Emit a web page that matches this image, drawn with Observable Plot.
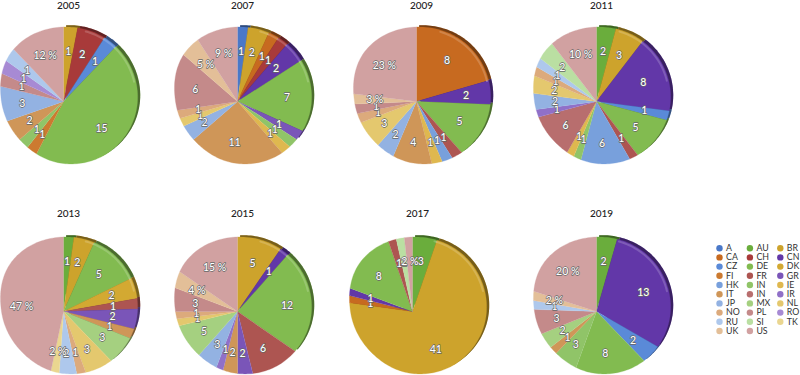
<!DOCTYPE html>
<html>
<head>
<meta charset="utf-8">
<style>html,body{margin:0;padding:0;background:#fff}svg{display:block}</style>
<script src="https://cdn.jsdelivr.net/npm/d3@7"></script>
<script src="https://cdn.jsdelivr.net/npm/@observablehq/plot@0.6"></script>
</head>
<body>
<script>
// Legend
const legendKeys = ["A","CA","CZ","FI","HK","IT","JP","NO","RU","UK","AU","CH","DE","FR","IN","IN2","MX","PL","SI","US","BR","CN","DK","GR","IE","IR","NL","RO","TK"];
const legendText = ["A","CA","CZ","FI","HK","IT","JP","NO","RU","UK","AU","CH","DE","FR","IN","IN","MX","PL","SI","US","BR","CN","DK","GR","IE","IR","NL","RO","TK"];
const legendColors = ["#4a78c8","#c76a20","#5a8ad8","#cc7a30","#78a0dc","#cf9658","#93b2e2","#dcaa7c","#aec8ec","#e3bf98",
  "#6aad3c","#a83a3a","#82bb50","#ad5551","#90c468","#b86e6e","#a5d080","#c48a8a","#badfa2","#d1a1a1",
  "#cda32c","#6237a8","#d3a932","#7a55b8","#dfb84f","#9070c8","#e4c86e","#a78ad4","#ead690"];

// One set of arrays per year, slices clockwise from twelve o'clock
const keys2005 = ["BR","CH","CZ","DE","FI","IN","IT","JP","PL","RO","RU","US"];
const vals2005 = [1,2,1,15,1,1,2,3,1,1,1,4];
const text2005 = ["1","2","1","15","1","1","2","3","1","1","1","12 %"];

const keys2007 = ["A","BR","CA","CH","CN","DE","GR","IN","IE","IT","JP","NL","NO","PL","UK","US"];
const vals2007 = [1,2,1,1,2,7,1,1,1,11,2,1,1,6,2,4];
const text2007 = ["1","2","1","1","2","7","1","1","1","11","2","1","1","6","5 %","9 %"];

const keys2009 = ["CA","CN","DE","FR","HK","IE","IT","JP","NL","NO","PL","UK","US"];
const vals2009 = [8,2,5,1,1,1,4,2,3,1,1,1,9];
const text2009 = ["8","2","5","1","1","1","4","2","3","1","1","3 %","23 %"];

const keys2011 = ["AU","BR","CN","CZ","DE","FR","HK","IN","IE","IN2","IR","JP","NL","NO","RU","SI","US"];
const vals2011 = [2,3,8,1,5,1,6,1,1,6,1,2,2,1,1,2,5];
const text2011 = ["2","3","8","1","5","1","6","1","1","6","1","2","2","1","1","2","10 %"];

const keys2013 = ["AU","BR","DE","DK","FR","GR","IT","MX","NL","NO","RU","TK","US"];
const vals2013 = [1,2,5,2,1,2,1,3,3,1,2,1,21];
const text2013 = ["1","2","5","2","1","2","1","3","3","1","2","2 %","47 %"];

const keys2015 = ["BR","CN","DE","FR","GR","IT","IR","JP","MX","NL","NO","PL","UK","US"];
const vals2015 = [5,1,12,6,2,2,1,3,5,1,1,3,2,8];
const text2015 = ["5","1","12","6","2","2","1","3","5","1","1","3","4 %","15 %"];

const keys2017 = ["AU","BR","CA","CN","DE","FR","SI","US"];
const vals2017 = [3,41,1,1,8,1,1,1];
const text2017 = ["3","41","1","1","8","1","1","2 %"];

const keys2019 = ["AU","CN","CZ","DE","IN","IT","MX","PL","RU","UK","US"];
const vals2019 = [2,13,2,8,3,1,2,3,1,1,9];
const text2019 = ["2","13","2","8","3","1","2","3","1","2 %","20 %"];

const pies = [
  {year:"2005", keys:keys2005, vals:vals2005, text:text2005, col:0, row:0},
  {year:"2007", keys:keys2007, vals:vals2007, text:text2007, col:1, row:0},
  {year:"2009", keys:keys2009, vals:vals2009, text:text2009, col:2, row:0},
  {year:"2011", keys:keys2011, vals:vals2011, text:text2011, col:3, row:0},
  {year:"2013", keys:keys2013, vals:vals2013, text:text2013, col:0, row:1},
  {year:"2015", keys:keys2015, vals:vals2015, text:text2015, col:1, row:1},
  {year:"2017", keys:keys2017, vals:vals2017, text:text2017, col:2, row:1, nudge:-4},
  {year:"2019", keys:keys2019, vals:vals2019, text:text2019, col:3, row:1}
];

// Layout of the small multiples
const colCentres = [63, 237, 416, 596];
const rowCentres = [101, 311];
// Outline radius of the tilted disc, every 45 degrees clockwise from north
const outline = [74.5, 76, 74, 68.5, 62, 58, 62, 72];
const tau = 2 * Math.PI;

function radiusAt(theta) {
  const n = outline.length;
  const t = ((theta / tau) % 1 + 1) % 1 * n;
  const i = Math.floor(t), f = t - i;
  const p = k => outline[(i + k + n) % n];
  return 0.5 * (2*p(0) + (p(1)-p(-1))*f + (2*p(-1)-5*p(0)+4*p(1)-p(2))*f*f + (3*p(0)-p(-1)-3*p(1)+p(2))*f*f*f);
}

const wedgeRows = [], rimRows = [], shineRows = [], labelRows = [], titleRows = [];
for (const pie of pies) {
  const cx = colCentres[pie.col] + (pie.nudge || 0), cy = rowCentres[pie.row];
  titleRows.push({x: cx + 5, y: pie.row ? 213 : 5.5, t: pie.year});
  const arcs = d3.pie().sort(null)(pie.vals);
  arcs.forEach((a, i) => {
    const id = pie.year + "-" + i, key = pie.keys[i];
    const pts = [{x: cx, y: cy, id, key}];
    const steps = Math.max(2, Math.ceil((a.endAngle - a.startAngle) / 0.03));
    for (let s = 0; s <= steps; ++s) {
      const th = a.startAngle + (a.endAngle - a.startAngle) * s / steps, r = radiusAt(th);
      pts.push({x: cx + r * Math.sin(th), y: cy - r * Math.cos(th), id, key});
      if (th > 0.3 && th < 1.3) shineRows.push({x: cx + (r-1.8) * Math.sin(th), y: cy - (r-1.8) * Math.cos(th), id, key});
    }
    wedgeRows.push(...pts);
    if (a.startAngle < 2.1) rimRows.push(...pts);
    const mid = (a.startAngle + a.endAngle) / 2, lr = radiusAt(mid) * 0.67;
    labelRows.push({x: cx + lr * Math.sin(mid), y: cy - lr * Math.cos(mid), t: pie.text[i]});
  });
}

const legendRows = legendKeys.map((key, i) => ({
  key, text: legendText[i],
  x: 719 + Math.floor(i / 10) * 30.4,
  y: 247.7 + (i % 10) * 9.2
}));

const font = "Lato, 'Open Sans', sans-serif";
const chart = Plot.plot({
  width: 800, height: 375, margin: 0,
  x: {domain: [0, 800], range: [0, 800], axis: null},
  y: {domain: [0, 375], range: [0, 375], axis: null},
  color: {type: "categorical", domain: legendKeys, range: legendColors},
  style: {background: "#fff", fontFamily: font},
  marks: [
    Plot.line(rimRows, {x: "x", y: "y", z: "id", fill: "key", stroke: "none", dx: 2.6, dy: -1.8}),
    Plot.line(rimRows, {x: "x", y: "y", z: "id", fill: "#000", fillOpacity: 0.42, stroke: "none", dx: 2.6, dy: -1.8}),
    Plot.line(wedgeRows, {x: "x", y: "y", z: "id", fill: "key", stroke: "key", strokeWidth: 0.3}),
    Plot.line(shineRows, {x: "x", y: "y", z: "id", stroke: "#fff", strokeOpacity: 0.18, strokeWidth: 2}),
    Plot.text(labelRows, {x: "x", y: "y", text: "t", fill: "#fff", stroke: "#666", strokeWidth: 1.3, fontSize: 10.5, fontWeight: 500}),
    Plot.text(titleRows, {x: "x", y: "y", text: "t", fill: "#222", fontSize: 10, fontWeight: 500}),
    Plot.dot(legendRows, {x: "x", y: "y", fill: "key", r: 3.2}),
    Plot.text(legendRows, {x: "x", y: "y", dx: 6.5, text: "text", textAnchor: "start", fill: "#333", fontSize: 8.8})
  ]
});
document.body.appendChild(chart);
</script>
</body>
</html>
